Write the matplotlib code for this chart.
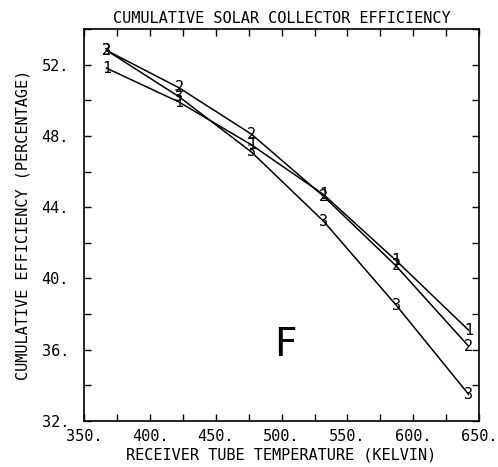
import matplotlib
matplotlib.use('Agg')
import matplotlib.pyplot as plt
from matplotlib.ticker import MultipleLocator, FormatStrFormatter

# receiver tube temperature (K)
temps = [367, 422, 477, 532, 587, 642]

# cumulative efficiency (%) for the three cases
eff_1 = [51.8, 49.9, 47.5, 44.7, 41.0, 37.1]
eff_2 = [52.8, 50.7, 48.1, 44.6, 40.7, 36.2]
eff_3 = [52.8, 50.2, 47.1, 43.2, 38.5, 33.5]

series = [('1', eff_1), ('2', eff_2), ('3', eff_3)]

font = 'DejaVu Sans Mono'

fig = plt.figure(figsize=(4.98, 4.67), dpi=100)
ax = fig.add_axes([0.169, 0.0985, 0.793, 0.8395])

for lab, ys in series:
    ax.plot(temps, ys, color='black', lw=1.1)
    for x, y in zip(temps, ys):
        ax.text(x, y, lab, ha='center', va='center', fontsize=11,
                family=font, color='black')

ax.set_xlim(350, 650)
ax.set_ylim(32, 54)

ax.xaxis.set_major_locator(MultipleLocator(50))
ax.xaxis.set_minor_locator(MultipleLocator(25))
ax.yaxis.set_major_locator(MultipleLocator(4))
ax.yaxis.set_minor_locator(MultipleLocator(2))
ax.xaxis.set_major_formatter(FormatStrFormatter('%d.'))
ax.yaxis.set_major_formatter(FormatStrFormatter('%d.'))

ax.tick_params(which='both', direction='in', length=5, width=1,
               top=True, right=True)
ax.tick_params(axis='y', which='major', pad=11)
ax.tick_params(axis='x', which='major', pad=6)
for lbl in ax.get_xticklabels() + ax.get_yticklabels():
    lbl.set_family(font)
    lbl.set_fontsize(11)

for s in ax.spines.values():
    s.set_linewidth(1.2)

ax.set_title('CUMULATIVE SOLAR COLLECTOR EFFICIENCY', family=font,
             fontsize=11, pad=4)
ax.set_xlabel('RECEIVER TUBE TEMPERATURE (KELVIN)', family=font,
              fontsize=11, labelpad=2)
ax.set_ylabel('CUMULATIVE EFFICIENCY (PERCENTAGE)', family=font,
              fontsize=11, labelpad=8)

ax.text(0.509, 0.194, 'F', transform=ax.transAxes, ha='center',
        va='center', fontsize=28, family='DejaVu Sans')

fig.savefig('out.png', dpi=100)
